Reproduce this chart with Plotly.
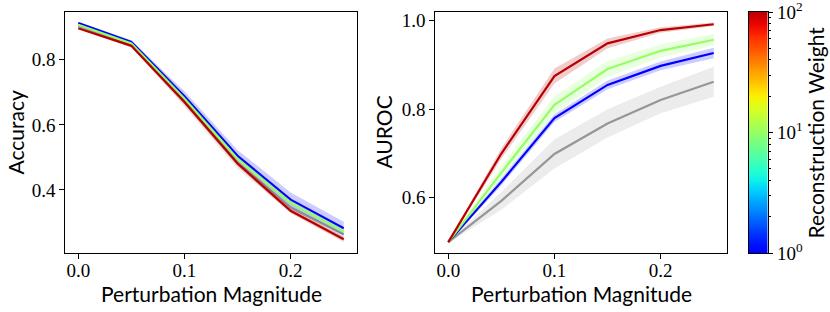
import numpy as np
import plotly.graph_objects as go

# ---------------- data ----------------
perturbation = [0.0, 0.05, 0.10, 0.15, 0.20, 0.25]
weights = [1, 10, 100]

acc_baseline = [0.905, 0.846, 0.672, 0.484, 0.346, 0.263]
acc_baseline_std = [0.004, 0.006, 0.016, 0.020, 0.015, 0.012]
acc_w1 = [0.913, 0.855, 0.688, 0.505, 0.370, 0.282]
acc_w1_std = [0.004, 0.005, 0.015, 0.018, 0.022, 0.020]
acc_w10 = [0.908, 0.850, 0.680, 0.495, 0.360, 0.272]
acc_w10_std = [0.003, 0.004, 0.008, 0.008, 0.008, 0.008]
acc_w100 = [0.897, 0.843, 0.670, 0.481, 0.336, 0.248]
acc_w100_std = [0.003, 0.004, 0.008, 0.008, 0.008, 0.008]

auroc_baseline = [0.5, 0.593, 0.699, 0.768, 0.821, 0.862]
auroc_baseline_std = [0.002, 0.020, 0.033, 0.032, 0.030, 0.034]
auroc_w1 = [0.5, 0.636, 0.780, 0.855, 0.898, 0.927]
auroc_w1_std = [0.002, 0.008, 0.009, 0.010, 0.010, 0.012]
auroc_w10 = [0.5, 0.657, 0.810, 0.891, 0.932, 0.957]
auroc_w10_std = [0.002, 0.015, 0.020, 0.018, 0.015, 0.013]
auroc_w100 = [0.5, 0.700, 0.875, 0.949, 0.979, 0.992]
auroc_w100_std = [0.002, 0.012, 0.017, 0.011, 0.006, 0.004]

x_ticks = [0.0, 0.1, 0.2]
x_ticktext = ["0.0", "0.1", "0.2"]
acc_ticks = [0.4, 0.6, 0.8]
auroc_ticks = [0.6, 0.8, 1.0]
cbar_ticktext = ["10<sup>0</sup>", "10<sup>1</sup>", "10<sup>2</sup>"]

# ---------------- colours ----------------
def jet(t):
    r = np.interp(t, [0, 0.35, 0.66, 0.89, 1], [0, 0, 1, 1, 0.5])
    g = np.interp(t, [0, 0.125, 0.375, 0.64, 0.91, 1], [0, 0, 1, 1, 0, 0])
    b = np.interp(t, [0, 0.11, 0.34, 0.65, 1], [0.5, 1, 1, 0, 0])
    return int(round(r * 255)), int(round(g * 255)), int(round(b * 255))

def wcolor(frac):
    return jet(0.11 + 0.84 * frac)

def rgba(c, a):
    return f"rgba({c[0]},{c[1]},{c[2]},{a})"

gray = (150, 150, 150)
serif = "Liberation Serif"
sans = "Lato"

fig = go.Figure()

def add_series(x, y, s, col, xa, ya, band_alpha):
    y = np.array(y)
    s = np.array(s)
    up = y + s
    lo = y - s
    fig.add_trace(go.Scatter(
        x=list(x) + list(x)[::-1], y=list(up) + list(lo)[::-1],
        fill="toself", fillcolor=rgba(col, band_alpha), line=dict(width=0),
        mode="lines", hoverinfo="skip", showlegend=False, xaxis=xa, yaxis=ya))
    fig.add_trace(go.Scatter(
        x=x, y=y, mode="lines", line=dict(color=rgba(col, 1), width=2.2),
        showlegend=False, xaxis=xa, yaxis=ya))

acc_series = [(acc_w1, acc_w1_std), (acc_w10, acc_w10_std), (acc_w100, acc_w100_std)]
auroc_series = [(auroc_w1, auroc_w1_std), (auroc_w10, auroc_w10_std), (auroc_w100, auroc_w100_std)]

add_series(perturbation, acc_baseline, acc_baseline_std, gray, "x", "y", 0.18)
for w, (v, s) in zip(weights, acc_series):
    add_series(perturbation, v, s, wcolor(np.log10(w) / 2), "x", "y", 0.2)

add_series(perturbation, auroc_baseline, auroc_baseline_std, gray, "x2", "y2", 0.18)
for w, (v, s) in zip(weights, auroc_series):
    add_series(perturbation, v, s, wcolor(np.log10(w) / 2), "x2", "y2", 0.2)

# colorbar as heatmap
n = 256
edges = np.linspace(0, 2, n + 1)
centers = (edges[:-1] + edges[1:]) / 2
z = [[c] for c in centers]
cs_pts = np.linspace(0, 1, 21)
colorscale = [[float(p), "rgb(%d,%d,%d)" % wcolor(p)] for p in cs_pts]
fig.add_trace(go.Heatmap(z=z, x=[0, 1], y=edges, colorscale=colorscale,
                         zmin=0, zmax=2, showscale=False, hoverinfo="skip",
                         xaxis="x3", yaxis="y3"))

ydom = [0.1891, 0.9615]
axis_common = dict(showline=True, linecolor="black", linewidth=1.3, mirror=True,
                   ticks="outside", ticklen=4.5, tickwidth=1.1, tickcolor="black",
                   showgrid=False, zeroline=False, automargin=False,
                   tickfont=dict(family=serif, size=19, color="black"))
xaxis_common = dict(axis_common, ticklabelstandoff=-4)

fig.update_layout(
    template="none",
    width=830, height=312, margin=dict(l=0, r=0, t=0, b=0, autoexpand=False),
    plot_bgcolor="white", paper_bgcolor="white",
    xaxis=dict(domain=[0.0783, 0.4301], range=[-0.0125, 0.2625],
               tickvals=x_ticks, ticktext=x_ticktext, anchor="y", **xaxis_common),
    yaxis=dict(domain=ydom, range=[0.206, 0.947], tickvals=acc_ticks,
               ticktext=[f"{t:.1f}" for t in acc_ticks], anchor="x", **axis_common),
    xaxis2=dict(domain=[0.5241, 0.8759], range=[-0.0125, 0.2625],
                tickvals=x_ticks, ticktext=x_ticktext, anchor="y2", **xaxis_common),
    yaxis2=dict(domain=ydom, range=[0.4753, 1.0197], tickvals=auroc_ticks,
                ticktext=[f"{t:.1f}" for t in auroc_ticks], anchor="x2", **axis_common),
    xaxis3=dict(domain=[0.9024, 0.9247], range=[0, 1], showticklabels=False,
                showline=True, linecolor="black", linewidth=1.2, mirror=True,
                ticks="", showgrid=False, zeroline=False, anchor="y3", automargin=False),
    yaxis3=dict(domain=ydom, range=[0, 2], side="right", anchor="x3",
                tickvals=[0, 1, 2], ticktext=cbar_ticktext, automargin=False,
                ticklabeloverflow="allow",
                showline=True, linecolor="black", linewidth=1.2, mirror=True,
                ticks="outside", ticklen=4.5, tickwidth=1.1, tickcolor="black",
                showgrid=False, zeroline=False,
                tickfont=dict(family=serif, size=19, color="black"),
                minor=dict(tickvals=[float(k + np.log10(m)) for k in (0, 1) for m in range(2, 10)],
                           ticks="outside", ticklen=2.5, tickwidth=0.8, tickcolor="black")),
)

title_font = dict(family=sans, size=21, color="black")
fig.add_annotation(text="Perturbation Magnitude", x=211 / 830, y=(312 - 308) / 312,
                   xref="paper", yref="paper", xanchor="center", yanchor="bottom",
                   showarrow=False, font=title_font)
fig.add_annotation(text="Perturbation Magnitude", x=581 / 830, y=(312 - 308) / 312,
                   xref="paper", yref="paper", xanchor="center", yanchor="bottom",
                   showarrow=False, font=title_font)
fig.add_annotation(text="Accuracy", x=15 / 830, y=(312 - 132.5) / 312, textangle=-90,
                   xref="paper", yref="paper", xanchor="center", yanchor="middle",
                   showarrow=False, font=title_font)
fig.add_annotation(text="AUROC", x=383 / 830, y=(312 - 132.5) / 312, textangle=-90,
                   xref="paper", yref="paper", xanchor="center", yanchor="middle",
                   showarrow=False, font=title_font)
fig.add_annotation(text="Reconstruction Weight", x=815 / 830, y=(312 - 132.5) / 312,
                   textangle=-90, xref="paper", yref="paper", xanchor="center",
                   yanchor="middle", showarrow=False, font=title_font)

fig.write_html("out.html", config={"displayModeBar": False},
               post_script="document.body.style.margin='0';document.body.style.overflow='hidden';")
